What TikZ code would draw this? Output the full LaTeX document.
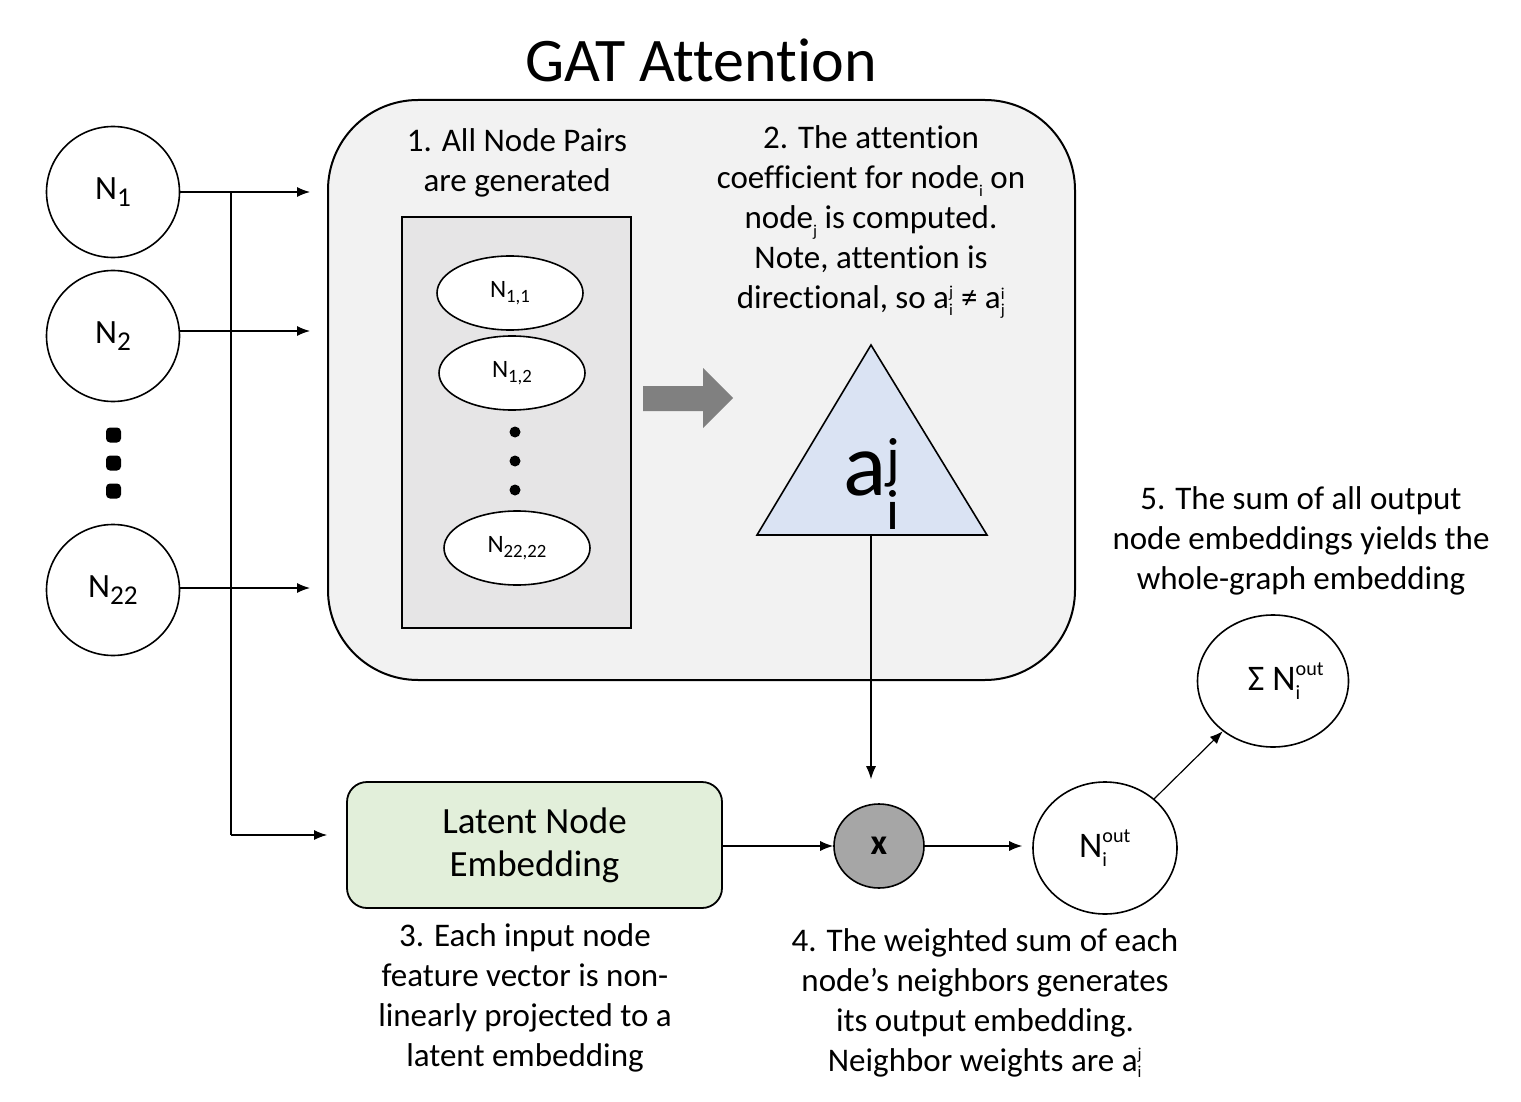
\documentclass[tikz,border=0pt]{standalone}
\usepackage{amsmath}
\usepackage{fontspec}
\setmainfont{Carlito}[Ligatures={NoCommon}]
\usetikzlibrary{arrows.meta,shapes.geometric}
\definecolor{outerbg}{HTML}{F2F2F2}
\definecolor{innerbg}{HTML}{E6E5E6}
\definecolor{tribg}{HTML}{DAE3F3}
\definecolor{latbg}{HTML}{E2EFDA}
\definecolor{multbg}{HTML}{A6A6A6}
\definecolor{blockarrow}{HTML}{808080}
% stacked superscript / subscript (scale relative to script size)
\newcommand{\SupSub}[3][1]{$^{\text{\scalebox{#1}{#2}}}_{\text{\scalebox{#1}{#3}}}$}
\newcommand{\SupSubHigh}[3][1]{$^{\text{\raisebox{0.25em}{\scalebox{#1}{#2}}}}_{\text{\scalebox{#1}{#3}}}$}
\newcommand{\Sub}[2][0.72]{\raisebox{-0.22em}{\scalebox{#1}{#2}}}
\begin{document}
\begin{tikzpicture}[x=1pt,y=-1pt,
  innode/.style={draw, line width=1.6pt, ellipse, minimum width=133pt, minimum height=131pt, inner sep=0pt, font=\fontsize{34}{38}\selectfont},
  pairnode/.style={draw, fill=white, line width=1.6pt, ellipse, minimum width=146pt, minimum height=74pt, inner sep=0pt, font=\fontsize{25}{28}\selectfont},
  conn/.style={line width=1.2pt, -{Latex[length=13pt,width=10pt]}},
  plain/.style={line width=1.2pt},
  caption/.style={align=center, inner sep=0pt, font=\fontsize{33}{40}\selectfont}
]
\useasboundingbox (0,0) rectangle (1521,1102);
\fill[white] (0,0) rectangle (1521,1102);

% title
\node[inner sep=0pt, font=\fontsize{62}{70}\selectfont] (title) at (701,60) {GAT Attention};

% attention container
\node[draw, fill=outerbg, line width=2pt, rounded corners=90pt, minimum width=747pt, minimum height=580pt] (attn) at (701.5,390) {};
\node[caption] (t1) at (517,163) {1. All Node Pairs\\are generated};
\node[draw, fill=innerbg, line width=1.8pt, minimum width=229pt, minimum height=411pt] (pairs) at (516.5,422.5) {};
\node[pairnode] (p11) at (510,293) {N\Sub[0.75]{1,1}};
\node[pairnode] (p12) at (512,373) {N\Sub[0.75]{1,2}};
\node[pairnode] (p2222) at (517,548) {N\Sub[0.75]{22,22}};
\foreach \yy in {432,461,490} \fill (515,\yy) circle (5.5pt);

% block arrow
\fill[blockarrow] (643,386) -- (703,386) -- (703,368) -- (733,398) -- (703,428) -- (703,411) -- (643,411) -- cycle;

\node[caption] (t2) at (871,222) {2. The attention\\coefficient for node\Sub[0.5]{i} on\\node\Sub[0.5]{j} is computed.\\Note, attention is\\directional, so a\SupSub[0.72]{j}{i} ≠ a\SupSub[0.72]{i}{j}};

% triangle
\draw[fill=tribg, line width=1.6pt] (871,345) -- (987,535) -- (757,535) -- cycle;
\coordinate (tribase) at (871,535);
\node[inner sep=0pt, font=\fontsize{90}{94}\selectfont] (coef) at (872,484) {a\SupSub[0.9]{j}{i}};

% input nodes
\node[innode] (n1) at (113,192) {N\Sub[0.8]{1}};
\node[innode] (n2) at (113,336) {N\Sub[0.8]{2}};
\node[innode] (n22) at (113,590) {N\Sub[0.8]{22}};
\foreach \yy in {435,463,491} \fill[rounded corners=4pt] (106,\yy-7.5) rectangle (121,\yy+7.5);

% bus
\coordinate (busTop) at (231,192);
\coordinate (busBot) at (231,835);
\coordinate (e1) at (328,192);
\coordinate (e2) at (328,331);
\coordinate (e22) at (328,588);
\draw[conn, shorten >=18pt] (n1.east |- e1) -- (e1);
\draw[conn, shorten >=18pt] (n2.east |- e2) -- (e2);
\draw[conn, shorten >=18pt] (n22.east |- e22) -- (e22);
\draw[plain] (busTop) -- (busBot);

% latent embedding
\node[draw, fill=latbg, line width=1.8pt, rounded corners=20pt, minimum width=375pt, minimum height=126pt, align=center, inner sep=0pt, font=\fontsize{37}{43}\selectfont] (lat) at (534.5,845) {Latent Node\\Embedding};
\draw[conn, shorten >=19pt] (busBot) -- (lat.west |- busBot);
\node[caption] (t3) at (525,998) {3. Each input node\\feature vector is non-\\linearly projected to a\\latent embedding};

% multiply node
\node[draw, fill=multbg, ellipse, line width=1.6pt, minimum width=90pt, minimum height=84pt, inner sep=0pt, font=\bfseries\fontsize{36}{40}\selectfont] (mult) at (879,846) {x};
\draw[conn] (lat.east |- mult) -- (mult.west);
\draw[conn, shorten >=24pt] (tribase) -- (tribase |- mult.north);

% output node
\node[innode, minimum width=144pt, minimum height=132pt, font=\fontsize{36}{40}\selectfont] (nout) at (1105,848) {N\SupSubHigh[0.8]{out}{i}};
\draw[conn, shorten >=10pt] (mult.east) -- (mult.east -| nout.west);

\node[innode, minimum width=151pt, minimum height=132pt, font=\fontsize{36}{40}\selectfont] (nsum) at (1273,681) {\hspace*{26pt}Σ N\SupSubHigh[0.8]{out}{i}};
\draw[conn] (nout.45) -- (nsum.225);

\node[caption] (t4) at (985,1003) {4. The weighted sum of each\\node’s neighbors generates\\its output embedding.\\Neighbor weights are a\SupSub[0.72]{j}{i}};
\node[caption] (t5) at (1301,541) {5. The sum of all output\\node embeddings yields the\\whole-graph embedding};
\end{tikzpicture}
\end{document}
